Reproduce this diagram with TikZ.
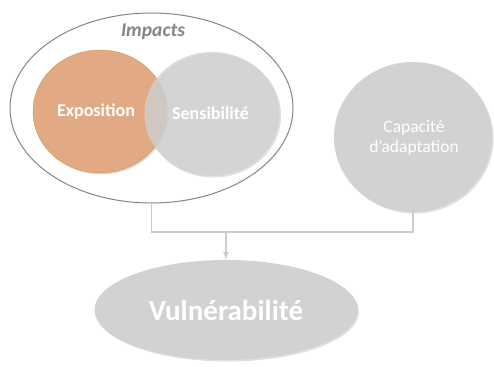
\documentclass[tikz,border=0pt]{standalone}
\usepackage{fontspec}
\setmainfont{Carlito}
\usetikzlibrary{shapes.geometric, shadows}

\definecolor{softgray}{HTML}{D2D2D2}
\definecolor{linegray}{HTML}{CDCDCD}
\definecolor{rimgray}{HTML}{858585}
\definecolor{expo}{HTML}{E2A985}
\definecolor{exporim}{HTML}{C9954E}

\begin{document}
\begin{tikzpicture}[x=1pt, y=-1pt,
  blob/.style={ellipse, inner sep=0pt, fill=softgray, text=white, font=\bfseries,
    drop shadow={shadow xshift=1.5pt, shadow yshift=-1.5pt, opacity=.25}},
  link/.style={draw=linegray, line width=1.6pt}]
  \useasboundingbox (0,0) rectangle (494,366);

  % impacts
  \node[ellipse, draw=rimgray, line width=1pt, minimum width=283pt, minimum height=190pt] (impacts) at (151.5,108) {};
  \node[font=\fontsize{19.5}{22}\selectfont\bfseries\itshape, text=rimgray] (impactslabel) at (153,32) {Impacts};
  \node[blob, fill=expo, draw=exporim, minimum width=134pt, minimum height=123pt] (expo) at (100,111.5) {};
  \node[blob, fill opacity=.8, minimum width=135pt, minimum height=124pt] (sensi) at (212,114) {};
  \node[text=white, font=\fontsize{18}{20}\selectfont\bfseries] (expolabel) at (96,112) {Exposition};
  \node[text=white, font=\fontsize{18}{20}\selectfont\bfseries] (sensilabel) at (210.5,113) {Sensibilité};

  % capacite
  \node[blob, minimum width=158pt, minimum height=150pt] (capa) at (413,137) {};
  \node[text=white, font=\fontsize{17.5}{20}\selectfont, align=center] (capalabel) at (414,138) {Capacité\\ d'adaptation};

  % vulnerabilite
  \node[blob, font=\fontsize{29}{32}\selectfont\bfseries, minimum width=263pt, minimum height=100pt] (vuln) at (226,310)
    {Vulnérabilité};

  % connecteurs
  \coordinate (join) at (vuln.north |- 0,232);
  \draw[link] (impacts.south) |- (join) -| (capa.south);
  \draw[link, -latex] (join) -- (vuln.north);
\end{tikzpicture}
\end{document}
